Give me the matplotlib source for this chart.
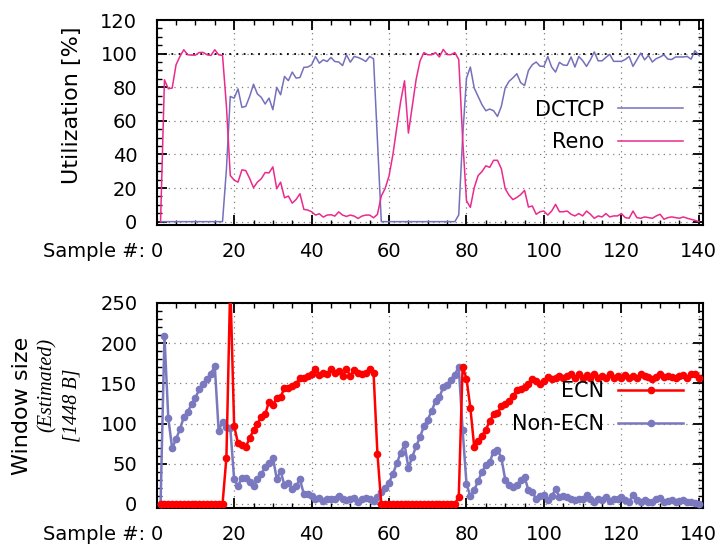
import numpy as np
import matplotlib
matplotlib.use("Agg")
import matplotlib.pyplot as plt
from matplotlib.ticker import MultipleLocator
from matplotlib.lines import Line2D

samples = np.arange(1, 141)

dctcp = [0]*17 + [31,
    74.5, 73.5, 79, 68, 68.6, 74.5, 81.8, 76, 74, 70, 73.5, 66.6, 79.9, 75.5, 86.4, 83.9, 89, 85.4, 85.8, 91.8,
    92, 93.3, 98.3, 94.3, 96.3, 95.3, 97.7, 95.3, 95, 92.9, 99.3, 94.9, 98.3, 97.7, 96.7, 95.3, 98.3, 96.9, 48] \
    + [0]*20 + [4,
    50, 85.4, 92, 79.5, 74.5, 69.6, 66, 67, 66, 62.6, 68.6, 79.7, 83.5, 85.6, 88, 82.7, 81, 90, 93.4, 95,
    92.5, 92.4, 98.3, 92, 89, 94.8, 93.2, 93, 98, 92, 98.3, 95.8, 92.4, 96.3, 101, 95.7, 95.7, 97.7, 99.6, 95.4,
    95.4, 95.4, 96.5, 98.3, 92.4, 96.3, 100.3, 96.3, 98.9, 95, 97, 98, 99.3, 96.7, 96.5, 98, 98, 98, 98.3, 96.7,
    101.7, 99]

reno = [0, 84.4, 79.1, 79.5, 93.4, 98.3, 102.3, 99.3, 99.1, 99.1, 100.7, 100.7, 99.3, 98.9, 102.3, 99.3, 98.9, 69,
    27.5, 24.7, 23.5, 30.8, 30.4, 25.7, 20.2, 23.5, 25.5, 29.2, 29, 32.6, 19.6, 23.5, 14.2, 15.2, 11, 13.2, 16.6, 7.3,
    6.9, 5.9, 3.9, 4.7, 2.7, 3.9, 4.1, 3.3, 5.8, 3.9, 3.1, 3.9, 3.3, 1.9, 3.3, 3.9, 3.9, 2.3, 4.3, 15.2, 19.8, 27.2,
    40, 56, 71.5, 83.8, 52.7, 68.9, 84.7, 95.6, 100.6, 99.3, 99.3, 100.6, 98, 102.5, 99.4, 99.4, 100.6, 96.5, 49.4, 12.4,
    8.5, 20.2, 27.4, 29.8, 33.2, 32.3, 36.5, 36.5, 31.5, 19.6, 15.7, 13.1, 14.4, 16.1, 18.6, 8.7, 9.3, 4.4, 5.9, 6.3,
    3.9, 6.3, 10.3, 5.9, 5.9, 6.3, 4.4, 3.4, 4.8, 3.4, 6.3, 4.4, 2, 3.4, 2.8, 4.8, 2.8, 3.4, 3.4, 4.8,
    2.4, 2, 6.3, 2.4, 2, 2.8, 2.4, 2, 3.4, 4.4, 1.4, 2.4, 2.8, 2.4, 2, 2.8, 2, 1.4, 0.8, 0]

ecn = [0]*17 + [57.6, 275, 97, 75.4, 72.9, 71.2, 81.6, 92, 99.8, 108.1, 111.4, 127.2, 123, 132.2, 133, 144.6, 144.6,
    146.7, 149.6, 157.1, 157.1, 159.2, 161.3, 167.7, 160.7, 162.5, 162, 167.7, 163, 166, 159, 168, 159, 167, 163,
    162, 163, 168, 163, 62.6] + [0]*20 + [8.7,
    171, 155.8, 119.7, 70.6, 78.6, 85, 92.4, 103, 111.7, 112.8, 122, 123.8, 128.5, 134, 141.7, 143, 146, 149.6,
    155, 152.9, 149.6, 152.9, 157.9, 155, 157, 159.2, 156.3, 159.2, 162.1, 157, 161.3, 157, 160.4, 157, 161.3,
    156.3, 159.2, 157, 162.1, 157, 159.2, 157, 160.4, 157, 159.2, 157, 161.3, 159.2, 157.9, 155, 157.9, 162.1,
    157.9, 159.2, 157.9, 157, 159.2, 160.4, 157, 161.3, 162.1, 156.3]

non_ecn = [0, 209, 106.5, 69.2, 81, 92.8, 108, 114.8, 123.9, 132.2, 142.6, 149.6, 155.4, 162, 171.6, 90.8, 102.4,
    96.2, 95, 30.6, 22.3, 32.7, 32.3, 27.8, 22.3, 30.6, 36.8, 46.4, 50.5, 57.6, 31.4, 41, 23.2, 26.5, 18.2, 22.3,
    30.6, 12, 12, 9.9, 5.8, 7.9, 3.7, 6.6, 6.6, 5.8, 9.9, 5.8, 4.6, 5.8, 7, 2.9, 5.8, 7, 6.6, 3.7, 9.1, 15.3,
    20.2, 26.4, 37.6, 50.4, 63.7, 74, 45, 58.3, 71.9, 83.1, 96.8, 105, 115.4, 127.8, 132.8, 145.3, 148.6, 154.8,
    161, 170.8, 92.3, 25, 9.6, 17.2, 28.7, 39.7, 48.5, 52.4, 65, 67.4, 57.6, 30.3, 23.6, 21, 23, 29.4, 33.6, 17,
    15.3, 5.8, 9.9, 11.2, 4.6, 9.9, 18.2, 8.7, 9.9, 8.7, 6.6, 5, 6.6, 5.8, 11.2, 5.8, 2.9, 5.8, 5, 8.7, 3.7,
    5.8, 5.8, 9.1, 4.6, 2.9, 11.2, 4.6, 2.9, 4.6, 2.9, 2.9, 5.8, 7.9, 2.9, 3.7, 4.6, 2.9, 3.7, 4.6, 2.9, 2.9,
    1.7, 0.4]

top_yticks = [0, 20, 40, 60, 80, 100, 120]
bot_yticks = [0, 50, 100, 150, 200, 250]
xticks = [0, 20, 40, 60, 80, 100, 120, 140]

c_dctcp = '#7470bc'
c_reno = '#ea2a8c'
c_ecn = '#ff0000'
c_non = '#7a78be'

W, H = 723, 546
fig = plt.figure(figsize=(W/100, H/100), dpi=100)

def px_axes(l, t, r, b):
    return fig.add_axes([l/W, (H-b)/H, (r-l)/W, (b-t)/H])

ax1 = px_axes(156.7, 20, 702.7, 225)
ax2 = px_axes(156.7, 303, 702.7, 508)

grid_kw = dict(color='#808080', lw=0.9, linestyle=(0, (1, 3.5)), zorder=1)

for ax, yt, ylim, minor in [(ax1, top_yticks, (-2, 120), 5), (ax2, bot_yticks, (-5, 250), 10)]:
    ax.set_xlim(0, 141)
    ax.set_ylim(*ylim)
    ax.set_xticks(xticks)
    ax.set_yticks(yt)
    ax.xaxis.set_minor_locator(MultipleLocator(5))
    ax.yaxis.set_minor_locator(MultipleLocator(minor))
    ax.tick_params(which='major', direction='in', length=7, width=1.3, top=True, right=True,
                   labelsize=14, pad=12)
    ax.tick_params(axis='y', which='major', pad=14)
    ax.tick_params(which='minor', direction='in', length=3.5, width=1.0, top=True, right=True)
    for s in ax.spines.values():
        s.set_linewidth(1.5)
    for xv in xticks:
        ax.axvline(xv, **grid_kw)
    for yv in yt:
        ax.axhline(yv, **grid_kw)
    ax.annotate('Sample #:', xy=(0, 0), xycoords='axes fraction', xytext=(-8, -12),
                textcoords='offset points', ha='right', va='top', fontsize=14)

ax1.axhline(100, color='black', lw=1.3, linestyle=(0, (1, 3)), zorder=1.5)

leg_kw = dict(loc='upper right', bbox_transform=fig.transFigure, frameon=False, markerfirst=False,
              handlelength=3.1, handletextpad=0.7, borderpad=0, borderaxespad=0, fontsize=15,
              labelspacing=0.62, numpoints=1)

l_d, = ax1.plot(samples, dctcp, color=c_dctcp, lw=1.1, zorder=3)
l_r, = ax1.plot(samples, reno, color=c_reno, lw=1.1, zorder=3)
ax1.legend([l_d, l_r], ['DCTCP', 'Reno'], bbox_to_anchor=(683/W, (H-99.5)/H), **leg_kw)

l_n, = ax2.plot(samples, non_ecn, color=c_non, lw=1.8, marker='o', ms=4.5, zorder=3)
l_e, = ax2.plot(samples, ecn, color=c_ecn, lw=1.8, marker='o', ms=4.5, zorder=4)
h_e = Line2D([], [], color=c_ecn, lw=1.8, marker='o', ms=4.5)
h_n = Line2D([], [], color=c_non, lw=1.8, marker='o', ms=4.5)
ax2.legend([h_e, h_n], ['ECN', 'Non-ECN'], bbox_to_anchor=(683/W, (H-381)/H), **leg_kw)

fig.text(72/W, (H-105)/H, 'Utilization [%]', rotation=90, ha='center', va='center', fontsize=16)
fig.text(21.7/W, (H-406)/H, 'Window size', rotation=90, ha='center', va='center', fontsize=16)
fig.text(46.7/W, (H-385)/H, '(Estimated)', rotation=90, ha='center', va='center', fontsize=14.5,
         family='Liberation Serif', style='italic')
fig.text(71.7/W, (H-405)/H, '[1448 B]', rotation=90, ha='center', va='center', fontsize=14.5,
         family='Liberation Serif', style='italic')

fig.savefig('out.png', dpi=100)
